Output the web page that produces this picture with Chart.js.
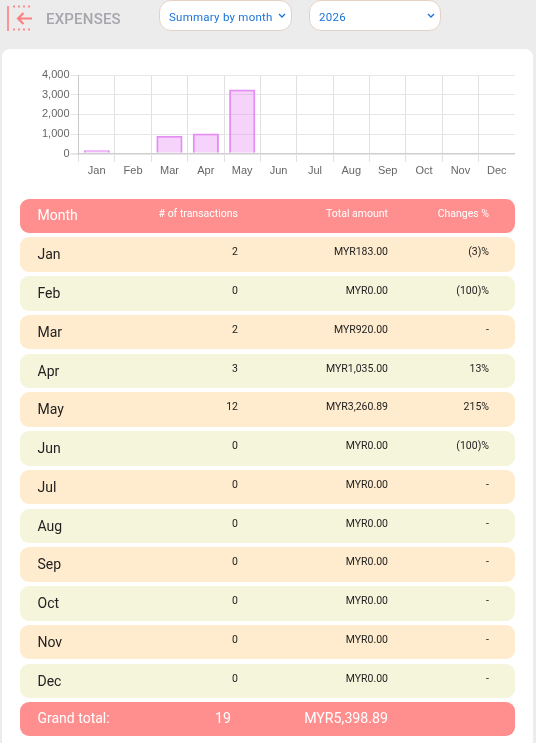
<!DOCTYPE html>
<html><head><meta charset="utf-8">
<script src="https://cdn.jsdelivr.net/npm/chart.js@4"></script>
<style>
html,body{margin:0;padding:0;background:#ececec;width:536px;height:743px;overflow:hidden;font-family:Roboto,sans-serif}
#card{position:absolute;left:2px;top:49px;width:531px;height:700px;background:#fff;border-radius:8px}
#title{position:absolute;left:46px;top:10px;font-size:15px;font-weight:500;color:#a6a6ac;letter-spacing:.2px;will-change:transform}
.sel{position:absolute;top:0;height:31px;background:#fff;border:1.5px solid #e4d2c4;border-radius:12px;box-sizing:border-box;color:#1a73d8;font-size:11.5px;font-weight:400;line-height:33px;letter-spacing:.25px;padding-left:9px;will-change:transform}
.sel svg{position:absolute;right:5px;top:12px}
#wrap{position:absolute;left:41px;top:66px;width:474px;height:115px}
#rows{position:absolute;left:0;top:0;width:536px;height:743px;will-change:transform}
.row{position:absolute;left:20px;width:495px;height:34.4px;border-radius:9px;color:#222}
.row div{position:absolute;white-space:nowrap}
.m{left:17.5px;top:9px;font-size:14px}
.c1{right:277px;top:8px;font-size:10.5px}
.c2{right:127px;top:8px;font-size:10.5px}
.c3{right:26px;top:8px;font-size:10.5px}
.head,.foot{background:#ff8f8f;color:#fff}
.head .m{top:8px;font-size:14px}
.head .c1,.head .c2,.head .c3{font-size:10.5px}
.foot .m{top:8px;font-size:14px}
.foot .c1,.foot .c2{font-size:14.2px;top:8px}
.foot .c1{right:284px}
</style></head><body>
<svg style="position:absolute;left:6px;top:4px" width="28" height="28" viewBox="0 0 28 28">
<line x1="2" y1="2" x2="2" y2="27" stroke="#ff8a8a" stroke-width="1.8"/>
<line x1="7" y1="2.5" x2="27" y2="2.5" stroke="#ff8a8a" stroke-width="2" stroke-dasharray="2 3"/>
<line x1="7" y1="25.5" x2="27" y2="25.5" stroke="#ff8a8a" stroke-width="2" stroke-dasharray="2 3"/>
<path d="M26 14.5H12M17.5 9l-5.5 5.5 5.5 5.5" fill="none" stroke="#ff7f7f" stroke-width="2.2"/>
</svg>
<div id="title">EXPENSES</div>
<div class="sel" style="left:159px;width:133px">Summary by month<svg width="8" height="6" viewBox="0 0 8 6"><path d="M1 1l3 3 3-3" fill="none" stroke="#1a73d8" stroke-width="1.3"/></svg></div>
<div class="sel" style="left:309px;width:132px">2026<svg width="8" height="6" viewBox="0 0 8 6"><path d="M1 1l3 3 3-3" fill="none" stroke="#1a73d8" stroke-width="1.3"/></svg></div>
<div id="card"></div>
<div id="wrap"><canvas id="c"></canvas></div>
<div id="rows"></div>
<script>
const months=["Jan","Feb","Mar","Apr","May","Jun","Jul","Aug","Sep","Oct","Nov","Dec"];
const amounts=[183,0,920,1035,3260.89,0,0,0,0,0,0,0];
const transactions=[2,0,2,3,12,0,0,0,0,0,0,0];
const totals=["MYR183.00","MYR0.00","MYR920.00","MYR1,035.00","MYR3,260.89","MYR0.00","MYR0.00","MYR0.00","MYR0.00","MYR0.00","MYR0.00","MYR0.00"];
const changes=["(3)%","(100)%","-","13%","215%","(100)%","-","-","-","-","-","-"];
const headers=["Month","# of transactions","Total amount","Changes %"];
const grand=["Grand total:","19","MYR5,398.89",""];

function addRow(vals,top,cls,bg){
  const r=document.createElement('div');
  r.className='row '+cls;r.style.top=top+'px';
  if(bg)r.style.background=bg;
  ['m','c1','c2','c3'].forEach((k,i)=>{const d=document.createElement('div');d.className=k;d.textContent=vals[i];r.appendChild(d);});
  document.getElementById('rows').appendChild(r);
}
addRow(headers,198.8,'head');
months.forEach((m,i)=>addRow([m,transactions[i],totals[i],changes[i]],237.4+i*38.75,'',i%2?'#f5f5dc':'#ffebcd'));
addRow(grand,702,'foot');

new Chart(document.getElementById('c'),{
  type:'bar',
  data:{labels:months,datasets:[{data:amounts,backgroundColor:'rgba(229,140,245,.38)',borderColor:'#e58cf5',borderWidth:2}]},
  options:{responsive:true,maintainAspectRatio:false,animation:false,
    plugins:{legend:{display:false},tooltip:{enabled:false}},
    layout:{padding:{top:9,right:0,left:0,bottom:0}},
    scales:{
      x:{grid:{color:'#e0e0e0'},ticks:{color:'#666',padding:3,font:{family:'"Liberation Sans"',size:11},maxRotation:0}},
      y:{min:0,max:4000,grid:{color:'#e6e6e6',lineWidth:c=>c.tick&&c.tick.value===0?2:1},ticks:{color:'#666',padding:1,stepSize:1000,font:{family:'"Liberation Sans"',size:11},callback:v=>v.toLocaleString('en-US')}}
    }}
});
</script>
</body></html>
